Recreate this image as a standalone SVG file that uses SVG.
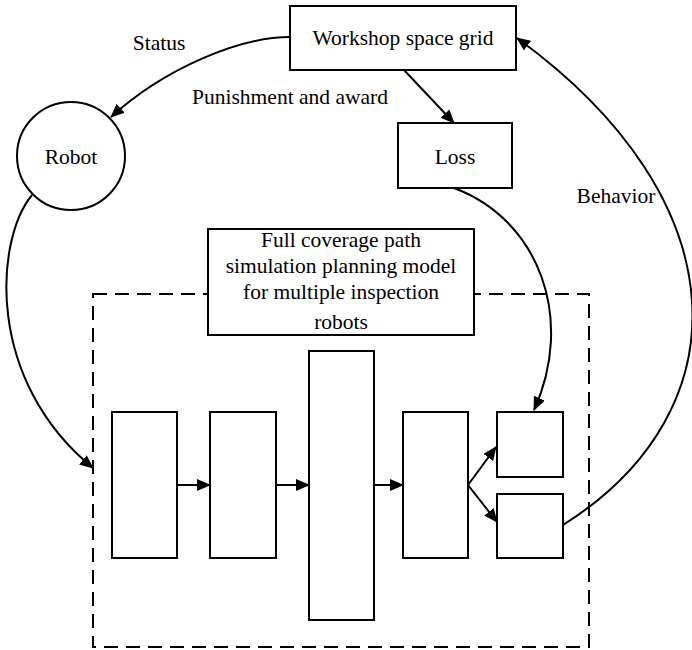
<svg xmlns="http://www.w3.org/2000/svg" width="692" height="650" viewBox="0 0 692 650">
<style>
.box{fill:#fff;stroke:#000;stroke-width:2}
.conn{fill:none;stroke:#000;stroke-width:2}
.dash{fill:none;stroke:#000;stroke-width:2;stroke-dasharray:14 8}
text{font-family:"Liberation Serif","Times New Roman",serif;font-size:21.5px;fill:#000;text-anchor:middle}
</style>
<defs>
<marker id="ah" markerUnits="userSpaceOnUse" markerWidth="16" markerHeight="14" refX="13" refY="6" orient="auto">
<path d="M0,0 L14,6 L0,12 z" fill="#000"/>
</marker>
</defs>
<rect id="frame" class="dash" x="93" y="294" width="496" height="353"/>
<g id="connectors">
<path class="conn" d="M290,37 C240,37 165,68 111,117" marker-end="url(#ah)"/>
<path class="conn" d="M404,70 L454,123" marker-end="url(#ah)"/>
<path class="conn" d="M32,195 C-5,240 -15,380 93,468" marker-end="url(#ah)"/>
<path class="conn" d="M454,188 C540,220 575,320 534,410" marker-end="url(#ah)"/>
<path class="conn" d="M563,525 C745,410 740,200 517,38" marker-end="url(#ah)"/>
<path class="conn" d="M177,485 L210,485" marker-end="url(#ah)"/>
<path class="conn" d="M276,485 L309,485" marker-end="url(#ah)"/>
<path class="conn" d="M374,485 L403,485" marker-end="url(#ah)"/>
<path class="conn" d="M468,485 L496,447" marker-end="url(#ah)"/>
<path class="conn" d="M468,485 L497,522" marker-end="url(#ah)"/>
</g>
<g id="workshop">
<rect class="box" x="290" y="6" width="226" height="64"/>
<text x="403" y="45">Workshop space grid</text>
</g>
<g id="robot">
<circle class="box" cx="71" cy="156" r="54"/>
<text x="71" y="164">Robot</text>
</g>
<g id="loss">
<rect class="box" x="398" y="123" width="114" height="65"/>
<text x="455" y="164">Loss</text>
</g>
<g id="labels">
<text x="159" y="50">Status</text>
<text x="290" y="104">Punishment and award</text>
<text x="616" y="203">Behavior</text>
</g>
<g id="model">
<rect class="box" x="208" y="229" width="266" height="106"/>
<text x="341" y="247">Full coverage path</text>
<text x="341" y="273">simulation planning model</text>
<text x="341" y="299">for multiple inspection</text>
<text x="341" y="329">robots</text>
</g>
<g id="layer1"><rect class="box" x="112" y="412" width="65" height="146"/></g>
<g id="layer2"><rect class="box" x="210" y="412" width="66" height="146"/></g>
<g id="layer3"><rect class="box" x="309" y="351" width="65" height="269"/></g>
<g id="layer4"><rect class="box" x="403" y="412" width="65" height="146"/></g>
<g id="out1"><rect class="box" x="497" y="412" width="66" height="65"/></g>
<g id="out2"><rect class="box" x="497" y="494" width="66" height="64"/></g>
</svg>
